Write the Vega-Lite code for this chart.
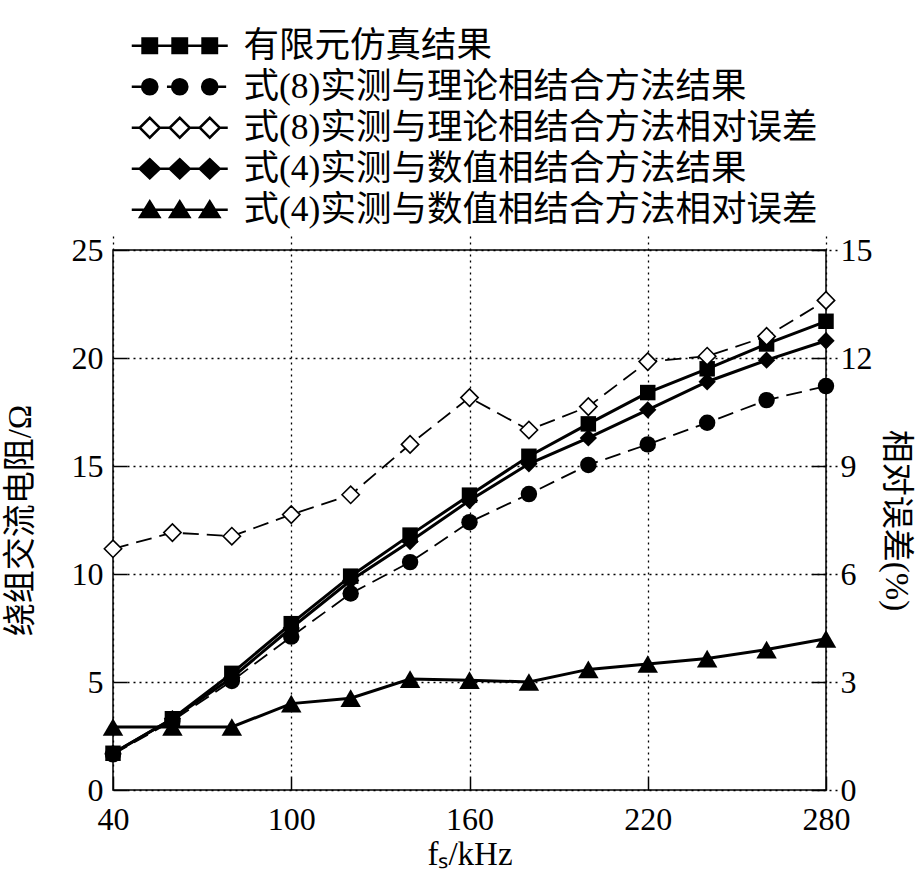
{
  "$schema": "https://vega.github.io/schema/vega-lite/v6.json",
  "width": 713,
  "height": 540,
  "autosize": {"type": "none"},
  "padding": {"left": 113, "top": 250, "right": 97, "bottom": 92},
  "background": "white",
  "config": {
    "view": {"stroke": "black", "strokeWidth": 1.5},
    "font": "Liberation Serif, Noto Sans CJK SC",
    "axis": {
      "labelFont": "Liberation Serif, Noto Sans CJK SC",
      "labelFontSize": 32,
      "labelColor": "black",
      "labelFlush": false,
      "labelOverlap": false,
      "titleFont": "Liberation Serif, Noto Sans CJK SC",
      "titleFontSize": 33,
      "titleFontWeight": "normal",
      "titleColor": "black",
      "domain": false,
      "offset": -14,
      "tickColor": "black",
      "tickWidth": 1.5,
      "tickSize": 14,
      "labelPadding": 10,
      "gridColor": "black",
      "gridDash": [2, 4],
      "gridWidth": 1.3,
      "gridOpacity": 1
    },
    "legend": {
      "orient": "none",
      "legendX": 49,
      "legendY": -222,
      "padding": 0,
      "labelFont": "Liberation Serif, Noto Sans CJK SC",
      "labelFontSize": 35.5,
      "labelColor": "black",
      "labelLimit": 0,
      "symbolSize": 256,
      "symbolStrokeWidth": 2.5,
      "labelOffset": 46,
      "rowPadding": 4
    }
  },
  "data": {
    "values": [
      {"f": 40, "s": "有限元仿真结果", "v": 1.7},
      {"f": 60, "s": "有限元仿真结果", "v": 3.3},
      {"f": 80, "s": "有限元仿真结果", "v": 5.4},
      {"f": 100, "s": "有限元仿真结果", "v": 7.7},
      {"f": 120, "s": "有限元仿真结果", "v": 9.9},
      {"f": 140, "s": "有限元仿真结果", "v": 11.8},
      {"f": 160, "s": "有限元仿真结果", "v": 13.65},
      {"f": 180, "s": "有限元仿真结果", "v": 15.45},
      {"f": 200, "s": "有限元仿真结果", "v": 16.95},
      {"f": 220, "s": "有限元仿真结果", "v": 18.4},
      {"f": 240, "s": "有限元仿真结果", "v": 19.5},
      {"f": 260, "s": "有限元仿真结果", "v": 20.65},
      {"f": 280, "s": "有限元仿真结果", "v": 21.7},
      {"f": 40, "s": "式(8)实测与理论相结合方法结果", "v": 1.65},
      {"f": 60, "s": "式(8)实测与理论相结合方法结果", "v": 3.2},
      {"f": 80, "s": "式(8)实测与理论相结合方法结果", "v": 5.05},
      {"f": 100, "s": "式(8)实测与理论相结合方法结果", "v": 7.1},
      {"f": 120, "s": "式(8)实测与理论相结合方法结果", "v": 9.1},
      {"f": 140, "s": "式(8)实测与理论相结合方法结果", "v": 10.55},
      {"f": 160, "s": "式(8)实测与理论相结合方法结果", "v": 12.4},
      {"f": 180, "s": "式(8)实测与理论相结合方法结果", "v": 13.7},
      {"f": 200, "s": "式(8)实测与理论相结合方法结果", "v": 15.05},
      {"f": 220, "s": "式(8)实测与理论相结合方法结果", "v": 16.0},
      {"f": 240, "s": "式(8)实测与理论相结合方法结果", "v": 17.0},
      {"f": 260, "s": "式(8)实测与理论相结合方法结果", "v": 18.05},
      {"f": 280, "s": "式(8)实测与理论相结合方法结果", "v": 18.7},
      {"f": 40, "s": "式(8)实测与理论相结合方法相对误差", "v": 6.7},
      {"f": 60, "s": "式(8)实测与理论相结合方法相对误差", "v": 7.15},
      {"f": 80, "s": "式(8)实测与理论相结合方法相对误差", "v": 7.05},
      {"f": 100, "s": "式(8)实测与理论相结合方法相对误差", "v": 7.65},
      {"f": 120, "s": "式(8)实测与理论相结合方法相对误差", "v": 8.2},
      {"f": 140, "s": "式(8)实测与理论相结合方法相对误差", "v": 9.6},
      {"f": 160, "s": "式(8)实测与理论相结合方法相对误差", "v": 10.9},
      {"f": 180, "s": "式(8)实测与理论相结合方法相对误差", "v": 10.0},
      {"f": 200, "s": "式(8)实测与理论相结合方法相对误差", "v": 10.65},
      {"f": 220, "s": "式(8)实测与理论相结合方法相对误差", "v": 11.9},
      {"f": 240, "s": "式(8)实测与理论相结合方法相对误差", "v": 12.05},
      {"f": 260, "s": "式(8)实测与理论相结合方法相对误差", "v": 12.6},
      {"f": 280, "s": "式(8)实测与理论相结合方法相对误差", "v": 13.6},
      {"f": 40, "s": "式(4)实测与数值相结合方法结果", "v": 1.7},
      {"f": 60, "s": "式(4)实测与数值相结合方法结果", "v": 3.3},
      {"f": 80, "s": "式(4)实测与数值相结合方法结果", "v": 5.2},
      {"f": 100, "s": "式(4)实测与数值相结合方法结果", "v": 7.5},
      {"f": 120, "s": "式(4)实测与数值相结合方法结果", "v": 9.7},
      {"f": 140, "s": "式(4)实测与数值相结合方法结果", "v": 11.5},
      {"f": 160, "s": "式(4)实测与数值相结合方法结果", "v": 13.4},
      {"f": 180, "s": "式(4)实测与数值相结合方法结果", "v": 15.1},
      {"f": 200, "s": "式(4)实测与数值相结合方法结果", "v": 16.3},
      {"f": 220, "s": "式(4)实测与数值相结合方法结果", "v": 17.6},
      {"f": 240, "s": "式(4)实测与数值相结合方法结果", "v": 18.9},
      {"f": 260, "s": "式(4)实测与数值相结合方法结果", "v": 19.9},
      {"f": 280, "s": "式(4)实测与数值相结合方法结果", "v": 20.8},
      {"f": 40, "s": "式(4)实测与数值相结合方法相对误差", "v": 1.75},
      {"f": 60, "s": "式(4)实测与数值相结合方法相对误差", "v": 1.75},
      {"f": 80, "s": "式(4)实测与数值相结合方法相对误差", "v": 1.75},
      {"f": 100, "s": "式(4)实测与数值相结合方法相对误差", "v": 2.4},
      {"f": 120, "s": "式(4)实测与数值相结合方法相对误差", "v": 2.55},
      {"f": 140, "s": "式(4)实测与数值相结合方法相对误差", "v": 3.08},
      {"f": 160, "s": "式(4)实测与数值相结合方法相对误差", "v": 3.05},
      {"f": 180, "s": "式(4)实测与数值相结合方法相对误差", "v": 3.0},
      {"f": 200, "s": "式(4)实测与数值相结合方法相对误差", "v": 3.35},
      {"f": 220, "s": "式(4)实测与数值相结合方法相对误差", "v": 3.5},
      {"f": 240, "s": "式(4)实测与数值相结合方法相对误差", "v": 3.65},
      {"f": 260, "s": "式(4)实测与数值相结合方法相对误差", "v": 3.9},
      {"f": 280, "s": "式(4)实测与数值相结合方法相对误差", "v": 4.2}
    ]
  },
  "encoding": {
    "x": {
      "field": "f", "type": "quantitative",
      "scale": {"domain": [40, 280], "nice": false},
      "axis": {"values": [40, 100, 160, 220, 280], "grid": true, "labelPadding": 14, "title": "fₛ/kHz", "titlePadding": 3}
    }
  },
  "layer": [
    {
      "encoding": {
        "y": {
          "field": "v", "type": "quantitative",
          "scale": {"domain": [0, 25], "nice": false},
          "axis": {"values": [0, 5, 10, 15, 20, 25], "grid": true, "orient": "left", "title": "绕组交流电阻/Ω", "titlePadding": 34}
        }
      },
      "layer": [
        {
          "transform": [{"filter": {"field": "s", "equal": "式(8)实测与理论相结合方法结果"}}],
          "mark": {"type": "line", "color": "black", "strokeWidth": 1.8, "strokeDash": [16, 8],
                   "point": {"shape": "circle", "filled": true, "color": "black", "size": 270, "opacity": 1}}
        },
        {
          "transform": [{"filter": {"field": "s", "equal": "式(4)实测与数值相结合方法结果"}}],
          "mark": {"type": "line", "color": "black", "strokeWidth": 3,
                   "point": {"shape": "diamond", "filled": true, "color": "black", "size": 300, "opacity": 1}}
        },
        {
          "transform": [{"filter": {"field": "s", "equal": "有限元仿真结果"}}],
          "mark": {"type": "line", "color": "black", "strokeWidth": 3,
                   "point": {"shape": "square", "filled": true, "color": "black", "size": 240, "opacity": 1}}
        },
        {
          "transform": [{"filter": "false"}],
          "mark": {"type": "point", "filled": true, "strokeWidth": 2.5, "opacity": 1},
          "encoding": {
            "shape": {
              "field": "s", "type": "nominal",
              "scale": {
                "domain": ["有限元仿真结果", "式(8)实测与理论相结合方法结果", "式(8)实测与理论相结合方法相对误差", "式(4)实测与数值相结合方法结果", "式(4)实测与数值相结合方法相对误差"],
                "range": [
                  "M-6,0H6M-4.65,-0.9H-2.85V0.9H-4.65ZM-0.9,-0.9H0.9V0.9H-0.9ZM2.85,-0.9H4.65V0.9H2.85Z",
                  "M-6,0H-4.7M-1.6,0H-0.95M4.7,0H5.8M-4.7,0A0.95,0.95 0 1,1 -2.8,0A0.95,0.95 0 1,1 -4.7,0ZM-0.95,0A0.95,0.95 0 1,1 0.95,0A0.95,0.95 0 1,1 -0.95,0ZM2.8,0A0.95,0.95 0 1,1 4.7,0A0.95,0.95 0 1,1 2.8,0Z",
                  "M-6,0H-5M-2.5,0H-1.25M1.25,0H2.5M5,0H6M-5,0L-3.75,-1.25L-2.5,0L-3.75,1.25ZM-1.25,0L0,-1.25L1.25,0L0,1.25ZM2.5,0L3.75,-1.25L5,0L3.75,1.25Z",
                  "M-6,0H6M-5,0L-3.75,-1.2L-2.5,0L-3.75,1.2ZM-1.25,0L0,-1.2L1.25,0L0,1.2ZM2.5,0L3.75,-1.2L5,0L3.75,1.2Z",
                  "M-6,0H6M-3.75,-1.05L-2.55,0.9L-4.95,0.9ZM0,-1.05L1.2,0.9L-1.2,0.9ZM3.75,-1.05L4.95,0.9L2.55,0.9Z"
                ]
              },
              "legend": {"title": null}
            },
            "fill": {
              "field": "s", "type": "nominal",
              "scale": {
                "domain": ["有限元仿真结果", "式(8)实测与理论相结合方法结果", "式(8)实测与理论相结合方法相对误差", "式(4)实测与数值相结合方法结果", "式(4)实测与数值相结合方法相对误差"],
                "range": ["black", "black", "white", "black", "black"]
              },
              "legend": {"title": null}
            },
            "stroke": {
              "field": "s", "type": "nominal",
              "scale": {
                "domain": ["有限元仿真结果", "式(8)实测与理论相结合方法结果", "式(8)实测与理论相结合方法相对误差", "式(4)实测与数值相结合方法结果", "式(4)实测与数值相结合方法相对误差"],
                "range": ["black", "black", "black", "black", "black"]
              },
              "legend": {"title": null}
            }
          }
        }
      ]
    },
    {
      "encoding": {
        "y": {
          "field": "v", "type": "quantitative",
          "scale": {"domain": [0, 15], "nice": false},
          "axis": {"values": [0, 3, 6, 9, 12, 15], "grid": false, "orient": "right", "labelPadding": 14, "title": "相对误差(%)", "titlePadding": 6}
        }
      },
      "layer": [
        {
          "transform": [{"filter": {"field": "s", "equal": "式(8)实测与理论相结合方法相对误差"}}],
          "mark": {"type": "line", "color": "black", "strokeWidth": 1.8, "strokeDash": [16, 8],
                   "point": {"shape": "diamond", "filled": true, "fill": "white", "stroke": "black", "strokeWidth": 1.6, "size": 300, "opacity": 1}}
        },
        {
          "transform": [{"filter": {"field": "s", "equal": "式(4)实测与数值相结合方法相对误差"}}],
          "mark": {"type": "line", "color": "black", "strokeWidth": 3,
                   "point": {"shape": "triangle-up", "filled": true, "color": "black", "size": 420, "opacity": 1}}
        }
      ]
    }
  ],
  "resolve": {"scale": {"y": "independent"}}
}
